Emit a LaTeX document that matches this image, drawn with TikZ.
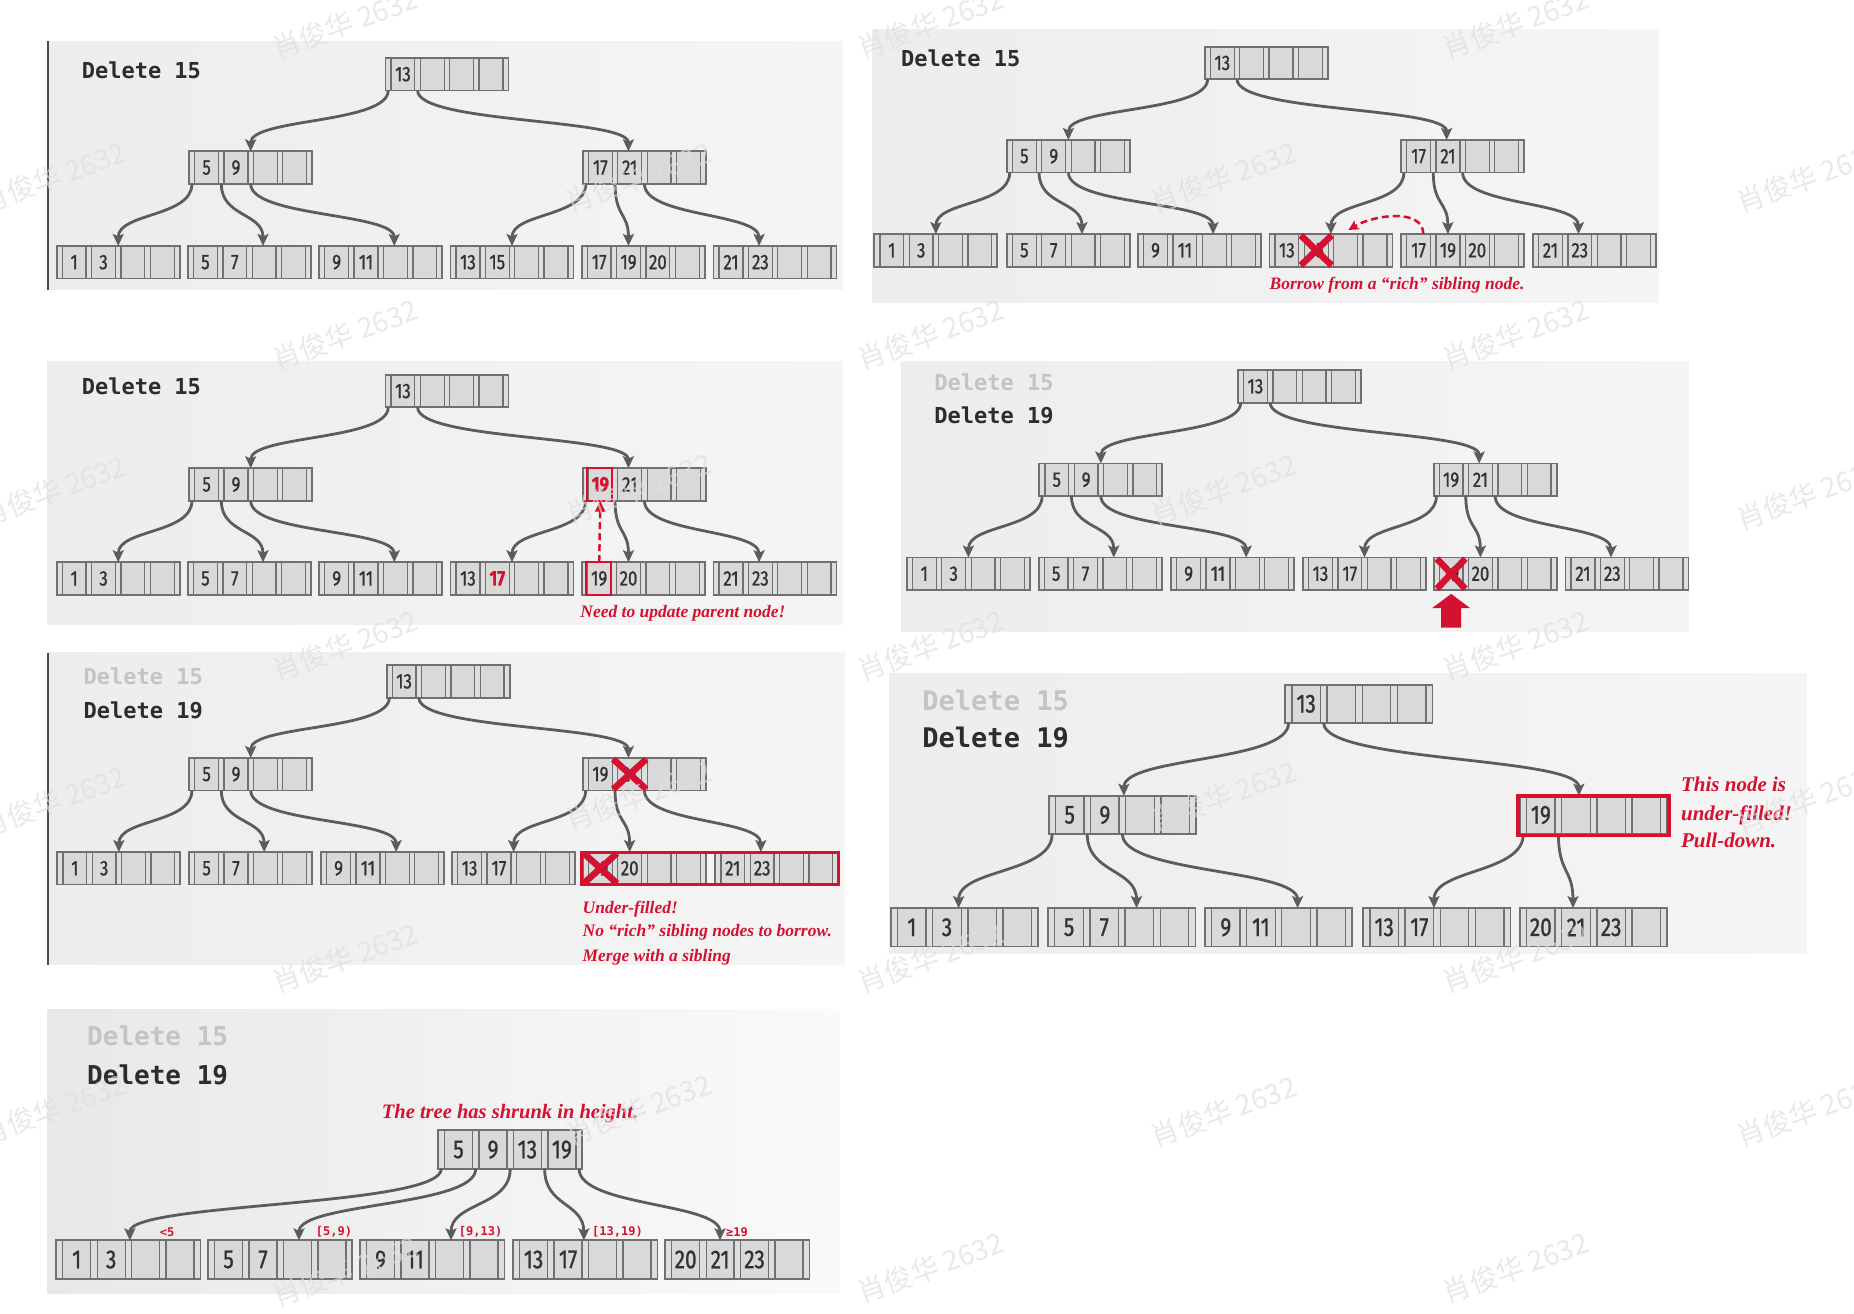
\documentclass[tikz,border=0pt]{standalone}
\usepackage{fontspec}
\usetikzlibrary{calc,arrows.meta}
\newfontfamily\keyfont[FakeStretch=0.8,FakeBold=1]{Fira Sans}
\newfontfamily\delfont{DejaVu Sans Mono}
\newfontfamily\redfont{Liberation Serif}
\newfontfamily\cjkfont{Noto Sans CJK SC}
\definecolor{nfill}{RGB}{217,217,217}
\definecolor{sfill}{RGB}{222,222,222}
\definecolor{ndraw}{RGB}{112,112,112}
\definecolor{keyc}{RGB}{50,50,50}
\definecolor{arrc}{RGB}{92,92,92}
\definecolor{bred}{RGB}{212,17,48}
\definecolor{delgray}{RGB}{196,196,196}
\definecolor{deldark}{RGB}{45,45,45}
\definecolor{bgl}{RGB}{237,237,237}
\definecolor{bgr}{RGB}{245,245,245}
\definecolor{wmc}{RGB}{222,222,222}
\def\S{1.1824}
\def\kfs{21pt}
\tikzset{
  nbox/.style={fill=nfill, draw=none, inner sep=0pt, outer sep=0pt},
  nbord/.style={draw=ndraw, line width=1.8pt},
  strip/.style={draw=ndraw, line width=1.3pt, fill=sfill},
  key/.style={font=\keyfont\fontsize{\kfs}{\kfs}\selectfont, text=keyc, inner sep=0pt},
  tarr/.style={draw=arrc, line width=2.8pt, -{Stealth[length=12pt,width=11pt,inset=2.5pt]}},
  del/.style={font=\delfont\bfseries\fontsize{#1}{#1}\selectfont, text=deldark, inner sep=0pt, anchor=base west},
  del/.default=22pt,
  delg/.style={del=#1, text=delgray},
  delg/.default=22pt,
  redt/.style={font=\redfont\bfseries\itshape\fontsize{#1}{#1}\selectfont, text=bred, inner sep=0pt, anchor=base west},
  redt/.default=17.5pt,
  redxs/.style={draw=bred, line width=6.5pt},
  rbox/.style={draw=bred, line width=2.4pt},
  rdash/.style={draw=bred, line width=2.5pt, dash pattern=on 7pt off 4pt, -{Stealth[length=10pt,width=10pt,inset=2pt]}},
  rdashv/.style={draw=bred, line width=2.5pt, dash pattern=on 7pt off 4pt, -{Triangle[length=11pt,width=10pt]}},
  lab/.style={font=\delfont\bfseries\fontsize{12pt}{12pt}\selectfont, text=bred, inner sep=0pt, anchor=west},
  wm/.style={font=\cjkfont\fontsize{28pt}{28pt}\selectfont, text=wmc, opacity=0.65, rotate=20, inner sep=0pt},
  bg/.style={left color=bgl, right color=bgr},
  bgg/.style={left color=black!9, right color=black!2},
  lline/.style={draw=black!70, line width=1.6pt},
}
\newcommand\keyat[3]{\ifx\relax#3\relax\else\node[key] (#1-k#2) at (#1-c#2) {#3};\fi}
\newcommand\bnode[9]{%
  \node[nbox, minimum width=\S*#4pt, minimum height=\S*#5pt, anchor=north west] (#1) at (#2,#3) {};%
  \foreach \i in {0,...,4}{%
    \draw[strip] ($(#1.north west)+(\i*0.23875*#4,0)$) rectangle ++(0.045*#4,#5);%
    \coordinate (#1-s\i) at ($(#1.south west)+(\i*0.23875*#4+0.0225*#4,0)$);%
  }%
  \foreach \i in {0,...,3}{%
    \coordinate (#1-c\i) at ($(#1.west)+(0.141875*#4+\i*0.23875*#4,0)$);%
  }%
  \draw[nbord] (#1.north west) rectangle (#1.south east);%
  \keyat{#1}{0}{#6}\keyat{#1}{1}{#7}\keyat{#1}{2}{#8}\keyat{#1}{3}{#9}%
}
\newcommand\tarrow[5][28]{\draw[tarr] (#2-s#3) .. controls +(0,#1) and +(0,-#1) .. ($(#4.north west)!#5!(#4.north east)$);}
\newcommand\stdarrows[1]{%
  \tarrow{#10}{0}{#11}{0.5}%
  \tarrow{#10}{1}{#12}{0.37}%
  \tarrow{#11}{0}{#13}{0.5}%
  \tarrow{#11}{1}{#14}{0.61}%
  \tarrow{#11}{2}{#15}{0.61}%
  \tarrow{#12}{0}{#16}{0.5}%
  \tarrow{#12}{1}{#17}{0.38}%
  \tarrow{#12}{2}{#18}{0.37}}
\newcommand\redx[3]{\draw[redxs] ($(#1)+(-#2,-#3)$) -- ($(#1)+(#2,#3)$) ($(#1)+(-#2,#3)$) -- ($(#1)+(#2,-#3)$);}
\newcommand\rk[1]{\textcolor{bred}{\bfseries #1}}
\begin{document}
\begin{tikzpicture}[x=1.1824pt,y=-1.1824pt]
\useasboundingbox (0,0) rectangle (1568,1111);
\fill[white] (0,0) rectangle (1568,1111);

% ---------- Panel 1 ----------
\shade[bg] (40,35) rectangle (713,245);
\draw[lline] (40.6,35) -- (40.6,245);
\node[del] (a-t) at (69,66) {Delete 15};
\bnode{a0}{326}{49}{104}{27.5}{13}{}{}{}
\bnode{a1}{160}{128}{104}{27.5}{5}{9}{}{}
\bnode{a2}{493}{128}{104}{27.5}{17}{21}{}{}
\bnode{a3}{48}{208}{104}{27.5}{1}{3}{}{}
\bnode{a4}{159}{208}{104}{27.5}{5}{7}{}{}
\bnode{a5}{270}{208}{104}{27.5}{9}{11}{}{}
\bnode{a6}{381}{208}{104}{27.5}{13}{15}{}{}
\bnode{a7}{492}{208}{104}{27.5}{17}{19}{20}{}
\bnode{a8}{603.5}{208}{104}{27.5}{21}{23}{}{}
\stdarrows{a}

% ---------- Panel 2 ----------
\shade[bg] (738,25) rectangle (1402.5,256);
\node[del] (b-t) at (762,56.4) {Delete 15};
\bnode{b0}{1019}{39.5}{104}{27.5}{13}{}{}{}
\bnode{b1}{851.6}{118.4}{104}{27.5}{5}{9}{}{}
\bnode{b2}{1185}{118.4}{104}{27.5}{17}{21}{}{}
\bnode{b3}{739.5}{198}{104}{27.5}{1}{3}{}{}
\bnode{b4}{851.6}{198}{104}{27.5}{5}{7}{}{}
\bnode{b5}{962.5}{198}{104}{27.5}{9}{11}{}{}
\bnode{b6}{1073.6}{198}{104}{27.5}{13}{15}{}{}
\bnode{b7}{1185}{198}{104}{27.5}{17}{19}{20}{}
\bnode{b8}{1296.5}{198}{104}{27.5}{21}{23}{}{}
\stdarrows{b}
\redx{b6-c1}{13}{12.7}
\draw[rdash] ($(b7.north west)!0.18!(b7.north east)$) .. controls +(0,-22) and +(22,-13) .. ($(b6.north west)!0.642!(b6.north east)+(0,-3.5)$);
\node[redt] (b-n) at (1073.6,244.6) {Borrow from a “rich” sibling node.};

% ---------- Panel 3 ----------
\shade[bg] (40,306) rectangle (712.5,528.5);
\node[del] (c-t) at (69,334) {Delete 15};
\bnode{c0}{326}{317}{104}{27.5}{13}{}{}{}
\bnode{c1}{160}{396}{104}{27.5}{5}{9}{}{}
\bnode{c2}{493}{396}{104}{27.5}{\rk{19}}{21}{}{}
\bnode{c3}{48}{475.5}{104}{27.5}{1}{3}{}{}
\bnode{c4}{159}{475.5}{104}{27.5}{5}{7}{}{}
\bnode{c5}{270}{475.5}{104}{27.5}{9}{11}{}{}
\bnode{c6}{381}{475.5}{104}{27.5}{13}{\rk{17}}{}{}
\bnode{c7}{492}{475.5}{104}{27.5}{19}{20}{}{}
\bnode{c8}{603.5}{475.5}{104}{27.5}{21}{23}{}{}
\stdarrows{c}
\draw[rbox] ($(c2.north west)+(3.6,0)$) rectangle ($(c2.south west)+(24.6,0)$);
\draw[rbox] ($(c7.north west)+(3.6,0)$) rectangle ($(c7.south west)+(24.6,0)$);
\draw[rdashv] (c7.north -| c7-c0) -- (c2.south -| c2-c0);
\node[redt] (c-n) at (490.7,522) {Need to update parent node!};

% ---------- Panel 4 ----------
\shade[bg] (762,306) rectangle (1428.6,534);
\node[delg] (d-t1) at (790,330) {Delete 15};
\node[del] (d-t2) at (790,358) {Delete 19};
\bnode{d0}{1047}{313}{104}{27.5}{13}{}{}{}
\bnode{d1}{879}{392}{104}{27.5}{5}{9}{}{}
\bnode{d2}{1212.5}{392}{104}{27.5}{19}{21}{}{}
\bnode{d3}{767}{471.5}{104}{27.5}{1}{3}{}{}
\bnode{d4}{878.5}{471.5}{104}{27.5}{5}{7}{}{}
\bnode{d5}{990.5}{471.5}{104}{27.5}{9}{11}{}{}
\bnode{d6}{1102}{471.5}{104}{27.5}{13}{17}{}{}
\bnode{d7}{1212.5}{471.5}{104}{27.5}{19}{20}{}{}
\bnode{d8}{1324}{471.5}{104}{27.5}{21}{23}{}{}
\stdarrows{d}
\redx{d7-c0}{12}{12.7}
\fill[bred] ($(d7-c0)+(-8.5,45.5)$) -- ($(d7-c0)+(-8.5,29)$) -- ($(d7-c0)+(-16,29)$) -- ($(d7-c0)+(0,17)$) -- ($(d7-c0)+(16,29)$) -- ($(d7-c0)+(8.5,29)$) -- ($(d7-c0)+(8.5,45.5)$) -- cycle;

% ---------- Panel 5 ----------
\shade[bg] (40,552) rectangle (714.6,816);
\draw[lline] (40.6,552) -- (40.6,816);
\node[delg] (e-t1) at (70.5,579) {Delete 15};
\node[del] (e-t2) at (70.5,607.5) {Delete 19};
\bnode{e0}{327}{562.5}{104}{27.5}{13}{}{}{}
\bnode{e1}{160}{641}{104}{27.5}{5}{9}{}{}
\bnode{e2}{493}{641}{104}{27.5}{19}{21}{}{}
\bnode{e3}{48.5}{720.6}{104}{27.5}{1}{3}{}{}
\bnode{e4}{160}{720.6}{104}{27.5}{5}{7}{}{}
\bnode{e5}{271.6}{720.6}{104}{27.5}{9}{11}{}{}
\bnode{e6}{382.4}{720.6}{104}{27.5}{13}{17}{}{}
\bnode{e7}{493}{720.6}{104}{27.5}{19}{20}{}{}
\bnode{e8}{605}{720.6}{104}{27.5}{21}{23}{}{}
\stdarrows{e}
\redx{e2-c1}{14}{12.7}
\redx{e7-c0}{14}{12.7}
\draw[rbox, line width=3pt] ($(e7.north west)+(-1,0)$) rectangle ($(e8.south east)+(0.5,0)$);
\node[redt] (e-n1) at (492.6,772.5) {Under-filled!};
\node[redt] (e-n2) at (492.6,792) {No “rich” sibling nodes to borrow.};
\node[redt] (e-n3) at (492.6,813) {Merge with a sibling};

% ---------- Panel 6 ----------
\shade[bg] (752,570) rectangle (1528,806);
\node[delg=27pt] (f-t1) at (780,600.5) {Delete 15};
\node[del=27pt] (f-t2) at (780,632.6) {Delete 19};
\def\kfs{26pt}
\bnode{f0}{1087}{579}{124.5}{32.5}{13}{}{}{}
\bnode{f1}{887}{673}{124.5}{32.5}{5}{9}{}{}
\bnode{f2}{1285.5}{673}{124.5}{32.5}{19}{}{}{}
\bnode{f3}{753.5}{768}{124.5}{32.5}{1}{3}{}{}
\bnode{f4}{886.5}{768}{124.5}{32.5}{5}{7}{}{}
\bnode{f5}{1019}{768}{124.5}{32.5}{9}{11}{}{}
\bnode{f6}{1153}{768}{124.5}{32.5}{13}{17}{}{}
\bnode{f7}{1285.5}{768}{124.5}{32.5}{20}{21}{23}{}
\tarrow[33]{f0}{0}{f1}{0.51}
\tarrow[33]{f0}{1}{f2}{0.40}
\tarrow[33]{f1}{0}{f3}{0.46}
\tarrow[33]{f1}{1}{f4}{0.60}
\tarrow[33]{f1}{2}{f5}{0.63}
\tarrow[33]{f2}{0}{f6}{0.48}
\tarrow[33]{f2}{1}{f7}{0.36}
\draw[rbox, line width=3.5pt] ($(f2.north west)+(-1.5,0)$) rectangle ($(f2.south east)+(1.5,1)$);
\node[redt=21pt] (f-n1) at (1421.6,669.6) {This node is};
\node[redt=21pt] (f-n2) at (1421.6,693.5) {under-filled!};
\node[redt=21pt] (f-n3) at (1421.6,717) {Pull-down.};

% ---------- Panel 7 ----------
\shade[bgg] (40,854) rectangle (710,1094);
\node[delg=26pt] (g-t1) at (73.6,884.6) {Delete 15};
\node[del=26pt] (g-t2) at (73.6,917.6) {Delete 19};
\node[redt=20.5pt] (g-n) at (322.8,945.6) {The tree has shrunk in height.};
\bnode{g0}{370.5}{956}{122}{32.5}{5}{9}{13}{19}
\bnode{g1}{47.6}{1049}{122}{32.5}{1}{3}{}{}
\bnode{g2}{176}{1049}{122}{32.5}{5}{7}{}{}
\bnode{g3}{304.6}{1049}{122}{32.5}{9}{11}{}{}
\bnode{g4}{434}{1049}{122}{32.5}{13}{17}{}{}
\bnode{g5}{562.6}{1049}{122}{32.5}{20}{21}{23}{}
\tarrow[32]{g0}{0}{g1}{0.51}
\tarrow[32]{g0}{1}{g2}{0.63}
\tarrow[32]{g0}{2}{g3}{0.63}
\tarrow[32]{g0}{3}{g4}{0.49}
\tarrow[32]{g0}{4}{g5}{0.38}
\node[lab] (g-l1) at (135,1042) {<5};
\node[lab] (g-l2) at (267,1042) {[5,9)};
\node[lab] (g-l3) at (388,1042) {[9,13)};
\node[lab] (g-l4) at (500.7,1042) {[13,19)};
\node[lab] (g-l5) at (614,1042) {≥19};

% ---------- watermarks ----------
\foreach \x/\y [count=\n] in {292/20,787/20,1282/20,45/150,540/150,1035/150,1530/150,
  292/283,787/283,1282/283,45/415,540/413,1035/414,1530/418,
  292/546,787/546,1282/546,45/678,540/673,1035/673,1530/676,
  292/810,787/810,1282/810,45/938,540/938,1035/940,1530/940,
  292/1075,787/1072,1282/1072}{
  \node[wm] (wm\n) at (\x,\y) {肖俊华 2632};
}
\end{tikzpicture}
\end{document}
